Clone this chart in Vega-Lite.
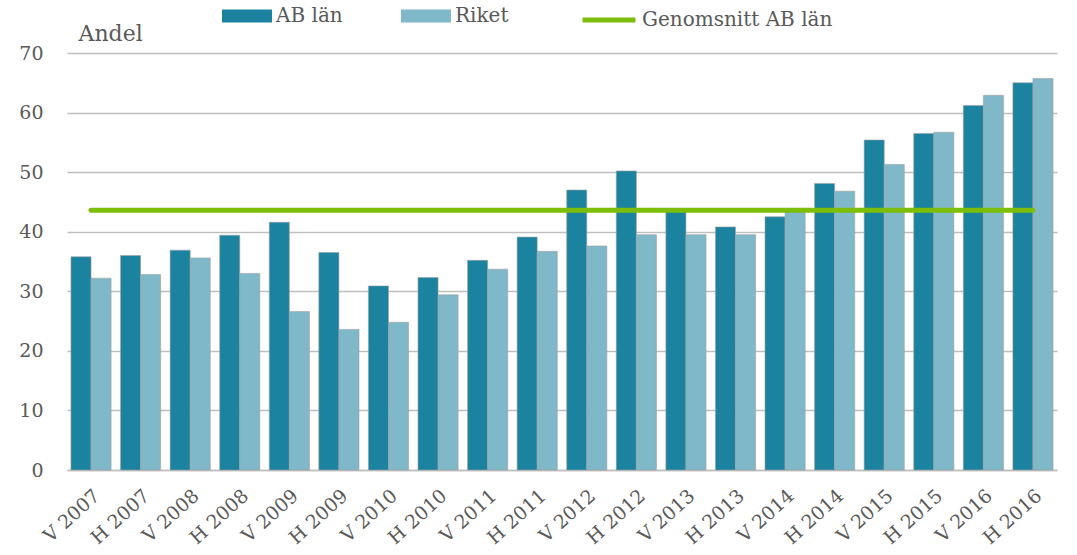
{
  "$schema": "https://vega.github.io/schema/vega-lite/v6.json",
  "width": 990,
  "height": 417,
  "autosize": {"type": "none"},
  "padding": {"left": 67, "top": 53, "right": 20, "bottom": 85},
  "background": "white",
  "config": {
    "font": "DejaVu Serif",
    "view": {"stroke": null},
    "legend": {"padding": 0, "labelFont": "DejaVu Serif", "labelLimit": 400},
    "axis": {"labelFont": "DejaVu Serif", "titleFont": "DejaVu Serif"}
  },
  "data": {
    "values": [
      {"period": "V 2007", "AB län": 35.8, "Riket": 32.2, "snitt": 43.6},
      {"period": "H 2007", "AB län": 36.0, "Riket": 32.8, "snitt": 43.6},
      {"period": "V 2008", "AB län": 36.9, "Riket": 35.6, "snitt": 43.6},
      {"period": "H 2008", "AB län": 39.4, "Riket": 33.0, "snitt": 43.6},
      {"period": "V 2009", "AB län": 41.6, "Riket": 26.6, "snitt": 43.6},
      {"period": "H 2009", "AB län": 36.5, "Riket": 23.6, "snitt": 43.6},
      {"period": "V 2010", "AB län": 30.9, "Riket": 24.8, "snitt": 43.6},
      {"period": "H 2010", "AB län": 32.3, "Riket": 29.4, "snitt": 43.6},
      {"period": "V 2011", "AB län": 35.2, "Riket": 33.7, "snitt": 43.6},
      {"period": "H 2011", "AB län": 39.1, "Riket": 36.7, "snitt": 43.6},
      {"period": "V 2012", "AB län": 47.0, "Riket": 37.6, "snitt": 43.6},
      {"period": "H 2012", "AB län": 50.2, "Riket": 39.5, "snitt": 43.6},
      {"period": "V 2013", "AB län": 43.5, "Riket": 39.5, "snitt": 43.6},
      {"period": "H 2013", "AB län": 40.8, "Riket": 39.5, "snitt": 43.6},
      {"period": "V 2014", "AB län": 42.5, "Riket": 43.3, "snitt": 43.6},
      {"period": "H 2014", "AB län": 48.1, "Riket": 46.8, "snitt": 43.6},
      {"period": "V 2015", "AB län": 55.4, "Riket": 51.3, "snitt": 43.6},
      {"period": "H 2015", "AB län": 56.5, "Riket": 56.7, "snitt": 43.6},
      {"period": "V 2016", "AB län": 61.2, "Riket": 62.9, "snitt": 43.6},
      {"period": "H 2016", "AB län": 65.0, "Riket": 65.7, "snitt": 43.6}
    ]
  },
  "layer": [
    {
      "transform": [{"fold": ["AB län", "Riket"], "as": ["serie", "andel"]}],
      "mark": {"type": "bar", "stroke": "#a0a0a0", "strokeWidth": 0.6},
      "encoding": {
        "x": {
          "field": "period", "type": "nominal", "sort": null,
          "scale": {"paddingInner": 0.19, "paddingOuter": 0.08},
          "axis": {
            "title": null, "labelAngle": -42, "labelFontSize": 19, "labelColor": "#595959",
            "labelAlign": "right", "labelBaseline": "top",
            "ticks": false, "tickSize": 0, "labelPadding": 16,
            "domain": true, "domainColor": "#BFBFBF", "domainWidth": 1.5, "grid": false
          }
        },
        "xOffset": {"field": "serie", "type": "nominal", "sort": ["AB län", "Riket"], "scale": {"paddingInner": 0, "paddingOuter": 0}},
        "y": {
          "field": "andel", "type": "quantitative",
          "scale": {"domain": [0, 70], "nice": false},
          "axis": {
            "values": [0, 10, 20, 30, 40, 50, 60, 70],
            "title": "Andel", "titleAngle": 0, "titleX": 11, "titleY": -13,
            "titleAlign": "left", "titleBaseline": "alphabetic",
            "titleFontSize": 22, "titleFontWeight": "normal", "titleColor": "#595959",
            "labelFontSize": 19, "labelColor": "#595959", "labelPadding": 24,
            "ticks": false, "tickSize": 0, "domain": false,
            "gridColor": "#BFBFBF", "gridWidth": 1.5
          }
        },
        "color": {
          "field": "serie", "type": "nominal",
          "scale": {"domain": ["AB län", "Riket"], "range": ["#1B82A0", "#7FB8C9"]},
          "legend": {
            "orient": "none", "legendX": 155, "legendY": -62, "direction": "horizontal",
            "title": null, "symbolType": "M-1,-0.26H1V0.26H-1Z", "symbolSize": 2500,
            "symbolStrokeWidth": 0, "symbolOpacity": 1,
            "labelFontSize": 20, "labelColor": "#595959", "labelOffset": 4, "columnPadding": 58
          }
        }
      }
    },
    {
      "mark": {"type": "line", "strokeWidth": 5, "strokeCap": "round"},
      "encoding": {
        "x": {"field": "period", "type": "nominal", "sort": null},
        "y": {"field": "snitt", "type": "quantitative"},
        "stroke": {
          "datum": "Genomsnitt AB län", "type": "nominal",
          "scale": {"range": ["#7DBE0A"]},
          "legend": {
            "orient": "none", "legendX": 513, "legendY": -62, "title": null,
            "symbolType": "stroke", "symbolSize": 2809, "symbolStrokeWidth": 5,
            "labelFontSize": 20, "labelColor": "#595959", "labelOffset": 4
          }
        }
      }
    }
  ]
}
